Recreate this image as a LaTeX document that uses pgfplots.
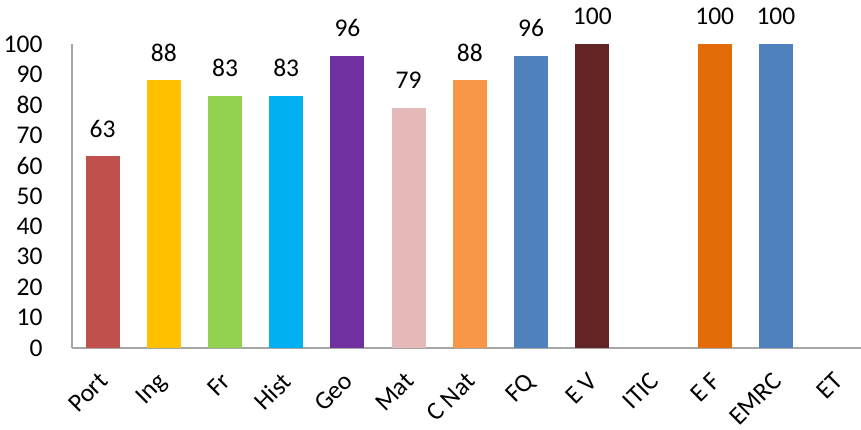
\documentclass[border=0pt]{standalone}
\usepackage{graphicx}
\usepackage{pgfplots}
\pgfplotsset{compat=1.18}
\usepackage{fontspec}
\setmainfont{Carlito}
\definecolor{cPort}{HTML}{C0504D}
\definecolor{cIng}{HTML}{FFC000}
\definecolor{cFr}{HTML}{92D050}
\definecolor{cHist}{HTML}{00B0F0}
\definecolor{cGeo}{HTML}{7030A0}
\definecolor{cMat}{HTML}{E6B9B8}
\definecolor{cCNat}{HTML}{F79646}
\definecolor{cFQ}{HTML}{4F81BD}
\definecolor{cEV}{HTML}{632523}
\definecolor{cEF}{HTML}{E36C09}
\definecolor{cEMRC}{HTML}{4F81BD}
\definecolor{axgray}{HTML}{A6A6A6}
\newcommand{\rl}[1]{\rotatebox{45}{#1}}
\begin{document}
\begin{tikzpicture}
\begin{axis}[
  name=main,
  scale only axis,
  width=789pt, height=304pt,
  xmin=-0.5, xmax=12.39,
  ymin=0, ymax=100,
  ytick={0,10,...,100},
  xtick={0,1,...,12},
  xticklabels={\rl{Port},\rl{Ing},\rl{Fr},\rl{Hist},\rl{Geo},\rl{Mat},\rl{C Nat},\rl{FQ},\rl{E V},\rl{ITIC},\rl{E F},\rl{EMRC},\rl{ET}},
  tick label style={font=\fontsize{25.5}{30}\selectfont},
  xticklabel style={anchor=north east, inner sep=0pt, xshift=7pt, yshift=-23pt},
  yticklabel style={xshift=-26pt},
  axis x line=bottom, axis y line=left,
  axis line style={-, axgray, line width=1.5pt},
  major tick length=0pt,
  /pgf/number format/assume math mode=true,
  ybar, bar width=34pt, bar shift=0pt,
  clip=false,
  nodes near coords,
  every node near coord/.append style={font=\fontsize{25.5}{30}\selectfont, black, inner sep=0pt, yshift=19pt},
]
\addplot[fill=cPort, draw=none] coordinates {(0,63)};
\addplot[fill=cIng, draw=none] coordinates {(1,88)};
\addplot[fill=cFr, draw=none] coordinates {(2,83)};
\addplot[fill=cHist, draw=none] coordinates {(3,83)};
\addplot[fill=cGeo, draw=none] coordinates {(4,96)};
\addplot[fill=cMat, draw=none] coordinates {(5,79)};
\addplot[fill=cCNat, draw=none] coordinates {(6,88)};
\addplot[fill=cFQ, draw=none] coordinates {(7,96)};
\addplot[fill=cEV, draw=none] coordinates {(8,100)};
\addplot[fill=cEF, draw=none] coordinates {(10,100)};
\addplot[fill=cEMRC, draw=none] coordinates {(11,100)};
\end{axis}
\pgfresetboundingbox
\path[use as bounding box] ([xshift=-72pt,yshift=-81pt]main.south west) rectangle ([yshift=44pt]main.north east);
\end{tikzpicture}
\end{document}
